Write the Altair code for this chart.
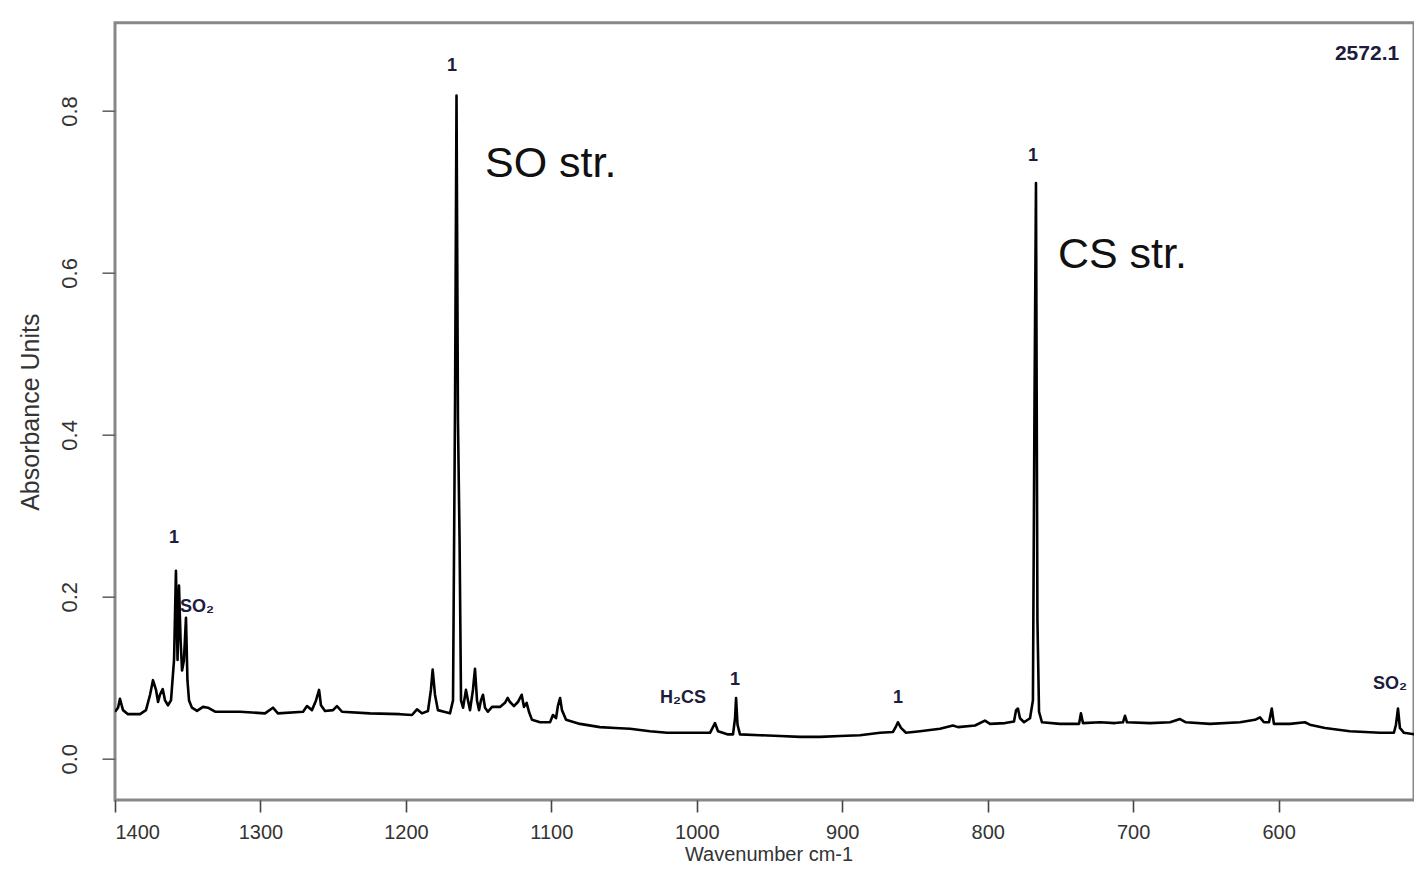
import altair as alt
import pandas as pd

# ---- spectrum (wavenumber cm-1, absorbance) ----
wavenumber = [
    1400.0, 1397.9, 1396.6, 1394.5, 1391.1, 1382.8, 1378.7, 1375.9, 1373.9, 1371.8,
    1370.4, 1369.1, 1367.2, 1365.6, 1363.6, 1361.5, 1359.4, 1358.1, 1357.0, 1356.0,
    1354.9, 1353.9, 1352.6, 1351.2, 1350.2, 1349.1, 1347.1, 1343.6, 1339.5, 1336.1,
    1331.2, 1314.1, 1296.9, 1291.4, 1288.0, 1270.7, 1268.0, 1264.6, 1261.8, 1259.7,
    1258.4, 1255.6, 1250.1, 1247.4, 1243.9, 1224.7, 1204.1, 1195.8, 1192.4, 1189.0,
    1184.8, 1182.8, 1181.6, 1180.0, 1178.0, 1173.8, 1169.7, 1167.6, 1166.2, 1165.2,
    1164.2, 1163.1, 1162.1, 1160.7, 1158.7, 1157.3, 1155.9, 1153.9, 1152.5, 1151.1,
    1149.7, 1148.4, 1147.0, 1145.6, 1143.6, 1140.8, 1135.3, 1131.9, 1130.0, 1128.4,
    1125.7, 1123.0, 1120.4, 1118.8, 1117.0, 1115.4, 1113.3, 1107.8, 1100.9, 1098.9,
    1096.8, 1095.4, 1094.0, 1092.7, 1089.9, 1080.3, 1066.6, 1056.2, 1045.9, 1032.2,
    1020.5, 1004.7, 990.9, 988.9, 987.5, 985.4, 978.5, 975.1, 973.7, 973.0,
    972.0, 970.3, 956.5, 942.8, 929.0, 915.3, 901.5, 887.8, 874.0, 865.1,
    863.0, 861.7, 859.6, 856.2, 846.5, 832.8, 823.9, 820.4, 808.7, 801.9,
    798.4, 788.1, 781.9, 780.5, 779.2, 777.8, 775.0, 770.9, 768.9, 767.8,
    766.8, 765.8, 764.7, 762.7, 750.3, 737.2, 735.9, 734.5, 722.8, 712.5,
    707.0, 705.6, 704.2, 688.4, 674.6, 667.8, 663.7, 647.2, 626.5, 616.2,
    612.8, 610.1, 606.6, 604.7, 603.2, 592.2, 581.9, 578.5, 568.1, 551.0,
    530.3, 520.7, 519.3, 517.9, 516.6, 513.8, 502.1,
]
absorbance = [
    0.058, 0.063, 0.074, 0.060, 0.055, 0.055, 0.060, 0.079, 0.097, 0.085,
    0.070, 0.079, 0.086, 0.072, 0.066, 0.072, 0.122, 0.232, 0.122, 0.214,
    0.146, 0.109, 0.122, 0.174, 0.097, 0.072, 0.063, 0.059, 0.064, 0.063,
    0.058, 0.058, 0.056, 0.063, 0.056, 0.058, 0.065, 0.060, 0.072, 0.085,
    0.066, 0.059, 0.060, 0.065, 0.058, 0.056, 0.055, 0.054, 0.061, 0.056,
    0.059, 0.085, 0.110, 0.079, 0.060, 0.058, 0.056, 0.072, 0.443, 0.819,
    0.418, 0.270, 0.072, 0.063, 0.085, 0.072, 0.060, 0.085, 0.111, 0.072,
    0.060, 0.072, 0.079, 0.063, 0.058, 0.064, 0.064, 0.069, 0.075, 0.070,
    0.065, 0.070, 0.079, 0.064, 0.069, 0.058, 0.048, 0.045, 0.045, 0.054,
    0.050, 0.066, 0.075, 0.060, 0.048, 0.043, 0.039, 0.038, 0.037, 0.034,
    0.032, 0.032, 0.032, 0.039, 0.044, 0.034, 0.030, 0.030, 0.050, 0.075,
    0.042, 0.030, 0.029, 0.028, 0.027, 0.027, 0.028, 0.029, 0.032, 0.033,
    0.040, 0.045, 0.038, 0.032, 0.034, 0.037, 0.041, 0.039, 0.041, 0.047,
    0.043, 0.044, 0.046, 0.060, 0.062, 0.050, 0.045, 0.050, 0.072, 0.443,
    0.711, 0.171, 0.058, 0.045, 0.043, 0.043, 0.056, 0.044, 0.045, 0.044,
    0.045, 0.053, 0.045, 0.044, 0.045, 0.049, 0.045, 0.043, 0.045, 0.048,
    0.051, 0.045, 0.045, 0.062, 0.043, 0.043, 0.045, 0.042, 0.038, 0.034,
    0.032, 0.032, 0.042, 0.062, 0.038, 0.032, 0.029,
]

# ---- large annotations ----
big_text = ["SO str.", "CS str."]
big_wn = [1145.6, 751.7]
big_abs = [0.718, 0.606]

# ---- small bold peak labels ----
small_text = ["1", "1", "1", "1", "1", "SO\u2082", "H\u2082CS", "SO\u2082", "2572.1"]
small_wn = [1168.3, 768.9, 1359.4, 973.7, 861.7, 1343.6, 1009.5, 523.4, 539.2]
small_abs = [0.855, 0.744, 0.272, 0.097, 0.075, 0.187, 0.075, 0.092, 0.870]
small_size = [18, 18, 18, 18, 18, 18, 18, 18, 21]

x_ticks = [1400, 1300, 1200, 1100, 1000, 900, 800, 700, 600]
y_ticks = [0.0, 0.2, 0.4, 0.6, 0.8]

spec = pd.DataFrame({"wn": wavenumber, "a": absorbance})
big_df = pd.DataFrame({"wn": big_wn, "a": big_abs, "t": big_text})
small_df = pd.DataFrame({"wn": small_wn, "a": small_abs, "t": small_text, "s": small_size})

x_scale = alt.Scale(domain=[1400, 506.9], nice=False, zero=False)
y_scale = alt.Scale(domain=[-0.051, 0.909], nice=False, zero=False)

x_enc = alt.X(
    "wn:Q", scale=x_scale, title="Wavenumber cm-1",
    axis=alt.Axis(
        values=x_ticks, format="d", grid=False, domain=False,
        tickSize=12, tickWidth=1.6, tickColor="#444444",
        labelFontSize=20, labelPadding=10, labelColor="#333333",
        labelFont="Liberation Sans",
        titleFont="Liberation Sans", titleFontSize=20, titleFontWeight="normal",
        titleColor="#333333", titleX=653.5, titleY=60, titleAlign="center",
        titleBaseline="alphabetic",
    ),
)
y_enc = alt.Y(
    "a:Q", scale=y_scale, title="Absorbance Units",
    axis=alt.Axis(
        values=y_ticks, format=".1f", grid=False, domain=False,
        tickSize=13, tickWidth=1.6, tickColor="#666666",
        labelFontSize=22, labelPadding=26, labelAngle=270,
        labelAlign="center", labelBaseline="alphabetic",
        labelColor="#333333", labelFont="Liberation Sans",
        titleFont="Liberation Sans", titleFontSize=25, titleFontWeight="normal",
        titleColor="#333333", titleAngle=270, titleAlign="center",
        titleBaseline="alphabetic", titleX=-77, titleY=389,
    ),
)

line = alt.Chart(spec).mark_line(
    color="black", strokeWidth=2.6, strokeJoin="round", clip=True
).encode(x=x_enc, y=y_enc)

big = alt.Chart(big_df).mark_text(
    font="Liberation Sans", fontSize=43, align="left", baseline="alphabetic",
    color="#111111",
).encode(x=x_enc, y=y_enc, text="t:N")

small = alt.Chart(small_df).mark_text(
    font="Liberation Sans", fontWeight="bold", align="center",
    baseline="middle", color="#1c1c3c",
).encode(x=x_enc, y=y_enc, text="t:N", size=alt.Size("s:Q", scale=None, legend=None))

chart = (
    alt.layer(line, big, small)
    .properties(
        width=1299,
        height=777.3,
        autosize=alt.AutoSizeParams(type="none"),
        padding={"left": 107, "top": 14.7, "right": 0, "bottom": 64},
        background="white",
    )
    .configure_view(stroke="#888888", strokeWidth=3)
)

chart.save("out.html", embed_options={"renderer": "svg", "actions": False})
